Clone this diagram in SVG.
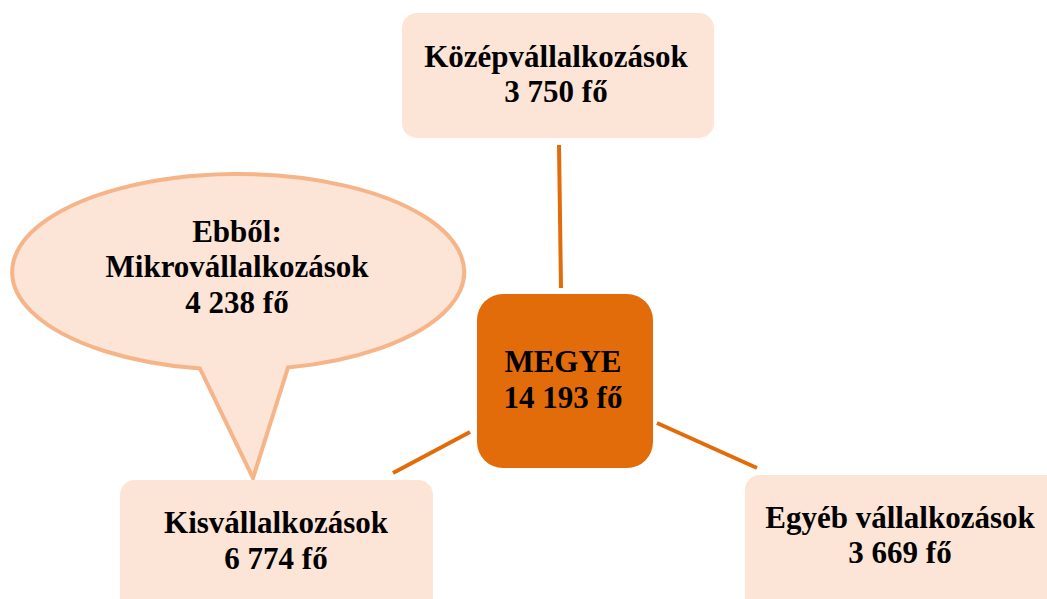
<svg xmlns="http://www.w3.org/2000/svg" width="1047" height="599" viewBox="0 0 1047 599">
<style>
.box{fill:#FCE4D6;}
.t{font-family:"Liberation Serif","Times New Roman",serif;font-weight:bold;font-size:31px;fill:#000;text-anchor:middle;}
.conn{stroke:#E36C0A;stroke-width:4;stroke-linecap:butt;fill:none;}
</style>
<rect width="1047" height="599" fill="#ffffff"/>
<g id="connectors">
<line class="conn" x1="559" y1="145" x2="561" y2="288"/>
<line class="conn" x1="470" y1="432" x2="393" y2="473"/>
<line class="conn" x1="657" y1="423" x2="757" y2="468"/>
</g>
<g id="callout">
<path d="M 288 367.6 A 226 98 0 1 0 200 368.6 L 253 478 Z" fill="#FCE4D6" stroke="#F5B588" stroke-width="4" stroke-linejoin="miter"/>
<text class="t" x="237" y="242">Ebből:</text>
<text class="t" x="237" y="277">Mikrovállalkozások</text>
<text class="t" x="237" y="313">4 238 fő</text>
</g>
<g id="kozep">
<rect class="box" x="402" y="13" width="312" height="125" rx="15"/>
<text class="t" x="556" y="67">Középvállalkozások</text>
<text class="t" x="556" y="102">3 750 fő</text>
</g>
<g id="megye">
<rect x="477" y="294" width="176" height="174" rx="26" fill="#E36C0A"/>
<text class="t" x="563" y="372">MEGYE</text>
<text class="t" x="563" y="408">14 193 fő</text>
</g>
<g id="kis">
<rect class="box" x="120" y="480" width="313" height="140" rx="15"/>
<text class="t" x="276" y="533">Kisvállalkozások</text>
<text class="t" x="276" y="569">6 774 fő</text>
</g>
<g id="egyeb">
<rect class="box" x="745" y="475" width="320" height="140" rx="15"/>
<text class="t" x="900" y="528">Egyéb vállalkozások</text>
<text class="t" x="900" y="563">3 669 fő</text>
</g>
</svg>
